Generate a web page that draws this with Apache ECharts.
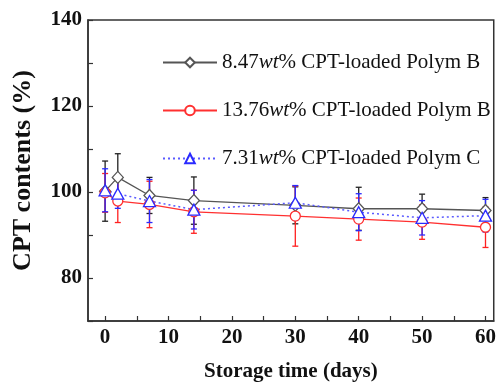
<!DOCTYPE html>
<html>
<head>
<meta charset="utf-8">
<script src="https://cdn.jsdelivr.net/npm/echarts@6/dist/echarts.min.js"></script>
<style>
  html, body { margin: 0; padding: 0; background: #fff; }
  #chart { width: 499px; height: 387px; }
</style>
</head>
<body>
<div id="chart"></div>
<script>
const days = [0, 2, 7, 14, 30, 40, 50, 60];

const polymB847 = [100.2, 103.4, 99.2, 98.0, 96.9, 96.1, 96.1, 95.7];
const polymB847Err = [7.0, 5.5, 4.2, 5.5, 4.3, 5.0, 3.4, 3.0];

const polymB1376 = [99.8, 97.9, 97.1, 95.4, 94.4, 93.7, 93.0, 91.8];
const polymB1376Err = [4.5, 5.0, 5.4, 5.0, 7.0, 4.9, 4.0, 4.7];

const polymC731 = [100.4, 99.6, 97.9, 95.9, 97.5, 95.3, 94.0, 94.5];
const polymC731Err = [5.0, 3.4, 5.0, 4.5, 4.0, 4.3, 4.0, 3.8];

const xLabels = [0, 10, 20, 30, 40, 50, 60];
const xTicks = [0, 5, 10, 15, 20, 25, 30, 35, 40, 45, 50, 55, 60];
const yLabels = [80, 100, 120, 140];
const yTicks = [70, 80, 90, 100, 110, 120, 130, 140];

const names = ['B847', 'B1376', 'C731'];
const legendText = {
    B847: '{n|8.47}{i|wt}{n|% CPT-loaded Polym B}',
    B1376: '{n|13.76}{i|wt}{n|% CPT-loaded Polym B}',
    C731: '{n|7.31}{i|wt}{n|% CPT-loaded Polym C}'
};

const serif = '"Liberation Serif", "DejaVu Serif", serif';

function pairs(vals) {
    return days.map((d, i) => [d, vals[i]]);
}

function errData(vals, errs) {
    return days.map((d, i) => [d, vals[i] - errs[i], vals[i] + errs[i]]);
}

function errSeries(vals, errs, color) {
    return {
        type: 'custom',
        z: 1,
        silent: true,
        data: errData(vals, errs),
        renderItem: function (params, api) {
            const lo = api.coord([api.value(0), api.value(1)]);
            const hi = api.coord([api.value(0), api.value(2)]);
            const w = 3;
            const style = { stroke: color, lineWidth: 1.3 };
            return {
                type: 'group',
                children: [
                    { type: 'line', shape: { x1: lo[0], y1: lo[1], x2: hi[0], y2: hi[1] }, style: style },
                    { type: 'line', shape: { x1: lo[0] - w, y1: lo[1], x2: lo[0] + w, y2: lo[1] }, style: style },
                    { type: 'line', shape: { x1: hi[0] - w, y1: hi[1], x2: hi[0] + w, y2: hi[1] }, style: style }
                ]
            };
        }
    };
}

const chart = echarts.init(document.getElementById('chart'));
chart.setOption({
    backgroundColor: '#fff',
    animation: false,
    grid: {
        left: 88, right: 2, top: 20, bottom: 64,
        show: true, borderColor: '#333', borderWidth: 1.5
    },
    legend: {
        data: names,
        orient: 'vertical',
        left: 157,
        top: 47,
        itemGap: 27,
        itemWidth: 54,
        itemHeight: 12,
        formatter: function (name) { return legendText[name]; },
        textStyle: {
            rich: {
                n: { fontFamily: serif, fontSize: 21, lineHeight: 21, color: '#111' },
                i: { fontFamily: serif, fontSize: 21, lineHeight: 21, fontStyle: 'italic', color: '#111' }
            }
        }
    },
    xAxis: {
        type: 'value',
        min: -2.7,
        max: 61.3,
        splitLine: { show: false },
        axisLine: { onZero: false, lineStyle: { color: '#333', width: 1.5 } },
        axisTick: { inside: true, length: 5, customValues: xTicks, lineStyle: { color: '#333', width: 1.2 } },
        axisLabel: {
            customValues: xLabels,
            fontFamily: serif, fontSize: 21, fontWeight: 'bold', color: '#111', margin: 6
        },
        name: 'Storage time (days)',
        nameLocation: 'middle',
        nameGap: 40,
        nameTextStyle: { fontFamily: serif, fontSize: 21, fontWeight: 'bold', color: '#111' }
    },
    yAxis: {
        type: 'value',
        min: 70,
        max: 140,
        splitLine: { show: false },
        axisLine: { onZero: false, lineStyle: { color: '#333', width: 1.5 } },
        axisTick: { inside: true, length: 5, customValues: yTicks, lineStyle: { color: '#333', width: 1.2 } },
        axisLabel: {
            customValues: yLabels,
            fontFamily: serif, fontSize: 21, fontWeight: 'bold', color: '#111', margin: 6
        },
        name: 'CPT contents (%)',
        nameLocation: 'middle',
        nameRotate: 90,
        nameGap: 52,
        nameTextStyle: { fontFamily: serif, fontSize: 26, fontWeight: 'bold', color: '#111' }
    },
    series: [
        errSeries(polymB847, polymB847Err, '#222'),
        errSeries(polymB1376, polymB1376Err, '#ff2020'),
        errSeries(polymC731, polymC731Err, '#2a2aff'),
        {
            name: 'B847',
            type: 'line',
            z: 3,
            data: pairs(polymB847),
            symbol: 'diamond',
            symbolSize: [11, 12],
            lineStyle: { color: '#555', width: 1.3 },
            itemStyle: { color: '#fff', borderColor: '#555', borderWidth: 1.3 }
        },
        {
            name: 'B1376',
            type: 'line',
            z: 3,
            data: pairs(polymB1376),
            symbol: 'circle',
            symbolSize: 10,
            lineStyle: { color: '#ff3030', width: 1.3 },
            itemStyle: { color: '#fff', borderColor: '#ff3030', borderWidth: 1.3 }
        },
        {
            name: 'C731',
            type: 'line',
            z: 3,
            data: pairs(polymC731),
            symbol: 'triangle',
            symbolSize: [12, 11],
            lineStyle: { color: '#5a5aff', width: 1.5, type: [2, 3] },
            itemStyle: { color: '#fff', borderColor: '#2a2aff', borderWidth: 1.3 }
        }
    ]
});
</script>
</body>
</html>
